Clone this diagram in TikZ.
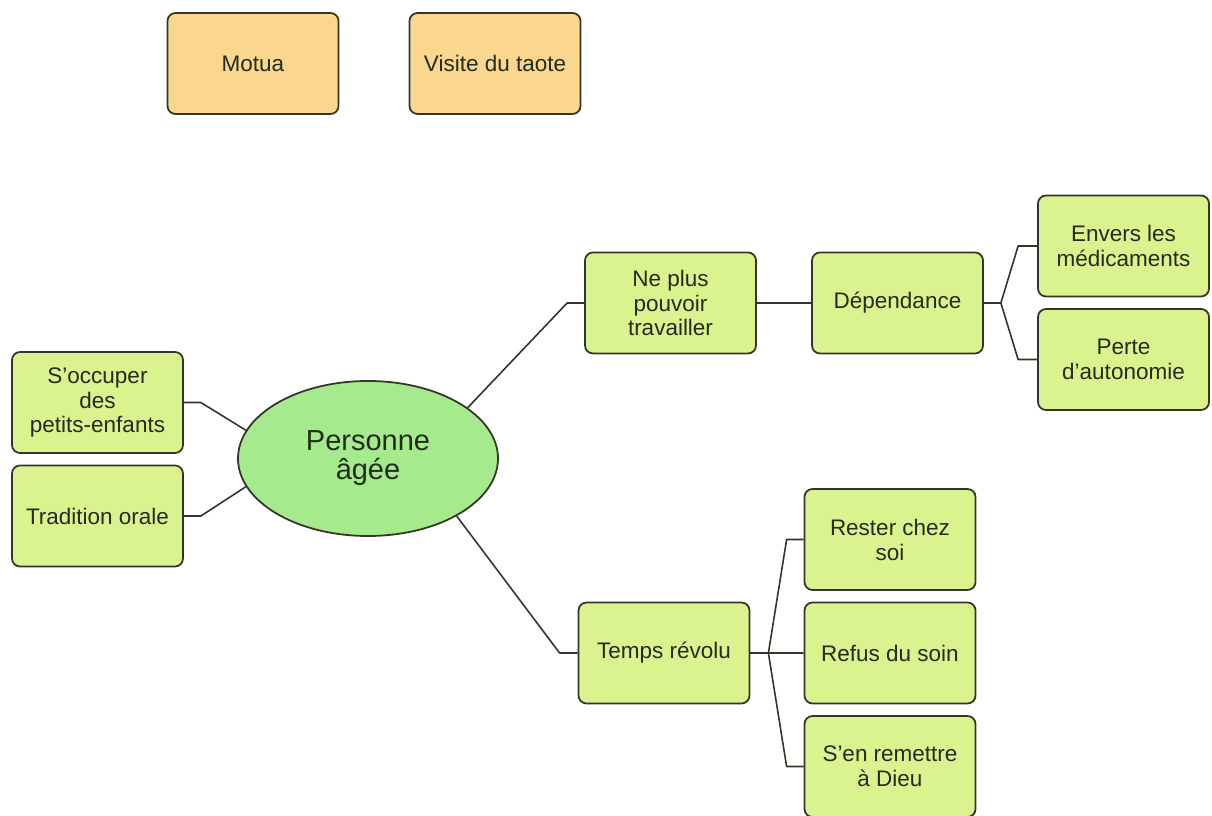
\documentclass[tikz,border=0pt]{standalone}
\usepackage{fontspec}
\setmainfont{Liberation Sans}
\usetikzlibrary{shapes.geometric}

\definecolor{leafgreen}{RGB}{219,243,142}
\definecolor{rootgreen}{RGB}{166,234,142}
\definecolor{notetan}{RGB}{250,214,142}
\definecolor{edgedark}{RGB}{50,54,38}
\definecolor{textdark}{RGB}{36,44,24}

\begin{document}
\begin{tikzpicture}[
            line join = round, % corners of the connectors
            node distance = 2.27cm, % distance between stacked boxes
            semithick % line style
        ]

        \tikzstyle{every node}=[
            text = textdark,
            font = \fontsize{12.8}{14.2}\selectfont
        ]
        \tikzstyle{idea}=[
            draw = edgedark,
            line width = 1pt,
            fill = leafgreen,
            rounded corners = 1.6mm,
            minimum width = 3.42cm,
            minimum height = 2.02cm,
            align = center
        ]
        \tikzstyle{note}=[idea, fill = notetan]
        \tikzstyle{root}=[
            ellipse,
            draw = edgedark,
            line width = 1pt,
            fill = rootgreen,
            minimum width = 5.2cm,
            minimum height = 3.1cm,
            inner sep = 0pt,
            align = center,
            font = \fontsize{16.5}{16.5}\selectfont
        ]
        \tikzstyle{link}=[draw = edgedark, line width = 0.9pt]

        \path[use as bounding box, fill = white] (0,0) rectangle (24.24,-16.32);

        % notes at the top
        \node[note] (motua) at (5.06,-1.27) {Motua};
        \node[note] (taote) at (9.90,-1.27) {Visite du taote};

        % centre
        \node[root] (pa) at (7.36,-9.17) {Personne\\âgée};

        % left side
        \node[idea] (occ) at (1.95,-8.05) {S’occuper\\des\\petits-enfants};
        \node[idea] (trad) [below of=occ] {Tradition orale};

        % upper branch
        \node[idea] (nepl) at (13.41,-6.06) {Ne plus\\pouvoir\\travailler};
        \node[idea] (dep) at (17.95,-6.06) {Dépendance};
        \node[idea] (env) at (22.47,-4.92) {Envers les\\médicaments};
        \node[idea] (perte) [below of=env] {Perte\\d’autonomie};

        % lower branch
        \node[idea] (temps) at (13.28,-13.06) {Temps révolu};
        \node[idea] (rest) at (17.80,-10.79) {Rester chez\\soi};
        \node[idea] (refus) [below of=rest] {Refus du soin};
        \node[idea] (remet) [below of=refus] {S’en remettre\\à Dieu};

        \draw[link] (occ.east) -- ++(0.34,0) -- (pa.167);
        \draw[link] (trad.east) -- ++(0.34,0) -- (pa.193);
        \draw[link] (pa.27) -- ([xshift=-0.34cm]nepl.west) -- (nepl.west);
        \draw[link] (pa.-33) -- ([xshift=-0.36cm]temps.west) -- (temps.west);
        \draw[link] (nepl) -- (dep);

        \draw[link] (dep.east) -- ++(0.34,0) coordinate (dfork);
        \draw[link] (dfork) -- ([xshift=-0.38cm]env.west) -- (env.west);
        \draw[link] (dfork) -- ([xshift=-0.38cm]perte.west) -- (perte.west);

        \draw[link] (temps.east) -- ++(0.36,0) coordinate (tfork);
        \draw[link] (tfork) -- ([xshift=-0.34cm]rest.west) -- (rest.west);
        \draw[link] (tfork) -- (refus.west);
        \draw[link] (tfork) -- ([xshift=-0.34cm]remet.west) -- (remet.west);

  \end{tikzpicture}
\end{document}
